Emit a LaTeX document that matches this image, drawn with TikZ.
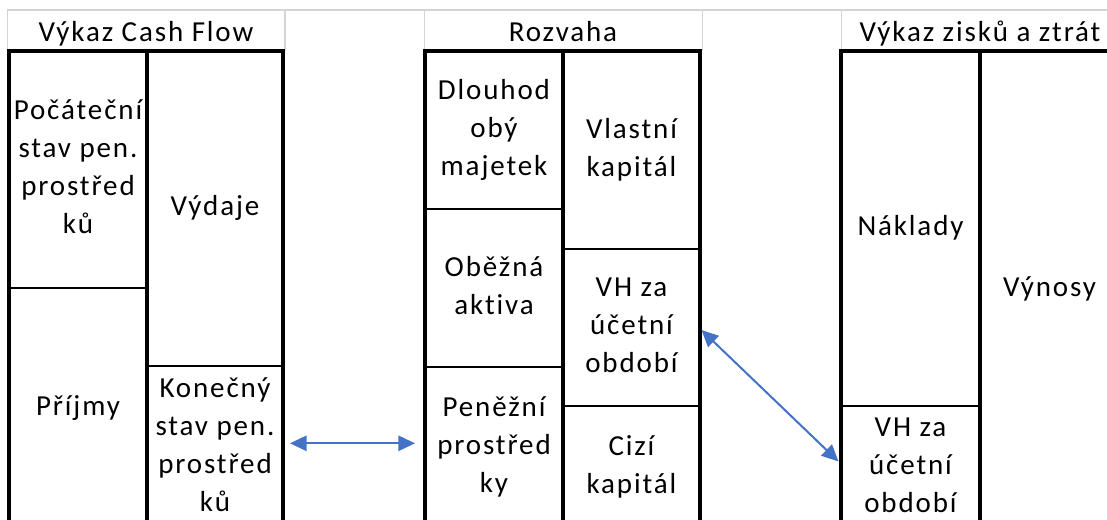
\documentclass[tikz,border=0pt]{standalone}
\usepackage{fontspec}
\setmainfont{Carlito}[LetterSpace=6.5, Ligatures=NoCommon]
\usetikzlibrary{arrows.meta}

\definecolor{gridgray}{HTML}{D4D4D4}
\definecolor{linkblue}{HTML}{4472C4}

\tikzset{
  x=0.75pt, y=-0.75pt,
  grid/.style={draw=gridgray, line width=1.1pt},
  outer/.style={draw=black, line width=3pt},
  split/.style={draw=black, line width=2.3pt},
  divider/.style={draw=black, line width=1.6pt},
  cell/.style={align=center, inner sep=0pt,
    font=\fontsize{21.75pt}{28.5pt}\selectfont},
  link/.style={draw=linkblue, line width=1.5pt,
    {Triangle[length=12.5pt,width=11.5pt]}-{Triangle[length=12.5pt,width=11.5pt]}},
}

\begin{document}
\begin{tikzpicture}
\clip (0,0) rectangle (1107,519);
\fill[white] (0,0) rectangle (1107,519);

% sheet gridlines of the header row
\draw[grid] (7,10) -- (1107,10);
\foreach \gx in {7.5,285,424.5,702.5,841.5}
  \draw[grid] (\gx,10) -- (\gx,51);

% --- cash flow statement ---
\draw[outer] (9,540) -- (9,51) -- (283,51) -- (283,540);
\draw[split] (147,51) -- (147,540);
\draw[divider] (9,288) -- (147,288);
\draw[divider] (147,366) -- (283,366);

% --- balance sheet ---
\draw[outer] (425,540) -- (425,51) -- (700,51) -- (700,540);
\draw[split] (563,51) -- (563,540);
\draw[divider] (425,209) -- (563,209);
\draw[divider] (425,367) -- (563,367);
\draw[divider] (563,249) -- (700,249);
\draw[divider] (563,406) -- (700,406);

% --- income statement ---
\draw[outer] (841,540) -- (841,51) -- (1125,51);
\draw[split] (980,51) -- (980,540);
\draw[divider] (841,406) -- (980,406);

% headers
\node[cell] (hCF) at (146,34)  {\strut Výkaz Cash Flow};
\node[cell] (hBS) at (563,34)  {\strut Rozvaha};
\node[cell] (hIS) at (980,34)  {\strut Výkaz zisků a ztrát};

% cash flow cells
\node[cell] (cfStart) at (78,169)  {\strut Počáteční\\stav pen.\\prostřed\\ků\strut};
\node[cell] (cfIn)    at (78,408)  {\strut Příjmy\strut};
\node[cell] (cfOut)   at (215,208) {\strut Výdaje\strut};
\node[cell] (cfEnd)   at (215,447) {\strut Konečný\\stav pen.\\prostřed\\ků\strut};

% balance sheet cells
\node[cell] (bsFixed) at (494,130)   {\strut Dlouhod\\obý\\majetek\strut};
\node[cell] (bsCurr)  at (494,288)   {\strut Oběžná\\aktiva\strut};
\node[cell] (bsCash)  at (494,447)   {\strut Peněžní\\prostřed\\ky\strut};
\node[cell] (bsEq)    at (631.5,150) {\strut Vlastní\\kapitál\strut};
\node[cell] (bsRes)   at (631.5,327) {\strut VH za\\účetní\\období\strut};
\node[cell] (bsDebt)  at (631.5,467) {\strut Cizí\\kapitál\strut};

% income statement cells
\node[cell] (isCost)  at (910.5,228)  {\strut Náklady\strut};
\node[cell] (isRes)   at (910.5,467)  {\strut VH za\\účetní\\období\strut};
\node[cell] (isRev)   at (1049.5,289) {\strut Výnosy\strut};

% links between the statements
\coordinate (cashL) at (290,443.3);
\coordinate (cashR) at (415,443.3);
\coordinate (resL)  at (701.5,330);
\coordinate (resR)  at (838.5,461.5);
\draw[link] (cashL) -- (cashR);
\draw[link] (resL) -- (resR);
\end{tikzpicture}
\end{document}
